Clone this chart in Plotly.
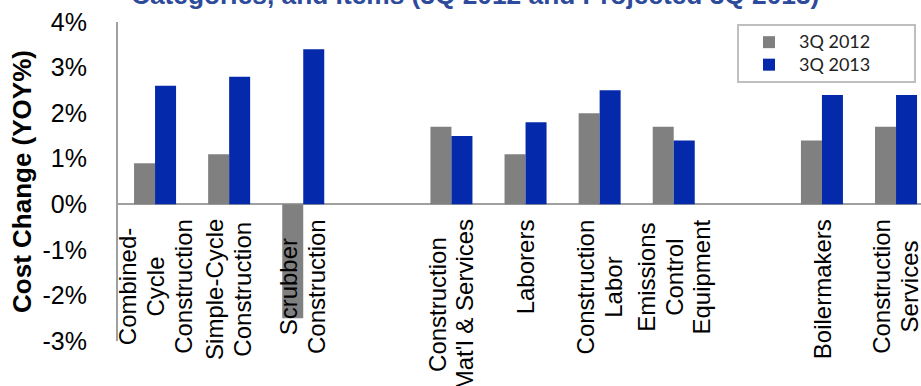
import plotly.graph_objects as go

categories = [
    "Combined-<br>Cycle<br>Construction",
    "Simple-Cycle<br>Construction",
    "Scrubber<br>Construction",
    " ",
    "Construction<br>Mat'l & Services",
    "Laborers",
    "Construction<br>Labor",
    "Emissions<br>Control<br>Equipment",
    "  ",
    "Boilermakers",
    "Construction<br>Services",
]
q3_2012 = [0.9, 1.1, -2.5, None, 1.7, 1.1, 2.0, 1.7, None, 1.4, 1.7]
q3_2013 = [2.6, 2.8, 3.4, None, 1.5, 1.8, 2.5, 1.4, None, 2.4, 2.4]
tick_vals = [-3, -2, -1, 0, 1, 2, 3, 4]
tick_text = ["-3%", "-2%", "-1%", "0%", "1%", "2%", "3%", "4%"]
series_names = ["3Q 2012", "3Q 2013"]
title_text = "Categories, and Items (3Q 2012 and Projected 3Q 2013)"
y_title = "Cost Change (YOY%)"

GRAY = "#808080"
BLUE = "#0429AA"
AXIS = "#A0A0A0"
FONT = "Liberation Sans, Arial, sans-serif"
NB = "\u00a0"


def legend_label(name):
    return f"<span style='font-size:18px'>{name}</span>" + NB * 10


fig = go.Figure()
fig.add_trace(go.Bar(x=categories, y=q3_2012, name=legend_label(series_names[0]),
                     marker=dict(color=GRAY, line=dict(width=0))))
fig.add_trace(go.Bar(x=categories, y=q3_2013, name=legend_label(series_names[1]),
                     marker=dict(color=BLUE, line=dict(width=0))))

annotations = []
for c in categories:
    if not c.strip():
        continue
    txt = "<br>".join(f"<span style='font-size:24px'>{ln}</span>" for ln in c.split("<br>"))
    annotations.append(dict(
        x=c, y=0, xref="x", yref="y", text=txt, showarrow=False,
        textangle=-90, xanchor="center", yanchor="top", yshift=-13,
        align="center", font=dict(family=FONT, size=21.3, color="black"),
    ))

annotations.append(dict(
    x=0.444, y=1, xref="paper", yref="paper", text="<b>" + title_text + "</b>",
    showarrow=False, xanchor="center", yanchor="bottom", yshift=10,
    font=dict(family=FONT, size=26.3, color="#2E4A9A"),
))

fig.update_layout(
    width=921, height=386,
    margin=dict(l=118, r=0, t=22, b=45, pad=0),
    paper_bgcolor="white", plot_bgcolor="white",
    barmode="group", bargap=0.433, bargroupgap=0,
    showlegend=True,
    legend=dict(
        x=0.9938, y=0.994, xanchor="right", yanchor="top",
        bgcolor="white", bordercolor="#BFBFBF", borderwidth=2,
        font=dict(family="Lato, Carlito, sans-serif", size=15, color="#222222"),
        itemwidth=50, tracegroupgap=0,
    ),
    xaxis=dict(
        categoryorder="array", categoryarray=categories,
        range=[-0.5, 10.337], showticklabels=False, showline=False,
        showgrid=False, zeroline=False, ticks="",
    ),
    yaxis=dict(
        range=[-3, 4], tickvals=tick_vals, ticktext=tick_text,
        showgrid=False, showline=True, linecolor=AXIS, linewidth=2,
        zeroline=True, zerolinecolor=AXIS, zerolinewidth=2,
        ticks="", ticklabelstandoff=24,
        tickfont=dict(family=FONT, size=25, color="black"),
        title=dict(text="<b>" + y_title + "</b>", standoff=3,
                   font=dict(family=FONT, size=26, color="black")),
    ),
    annotations=annotations,
)

fig.write_html("out.html")
